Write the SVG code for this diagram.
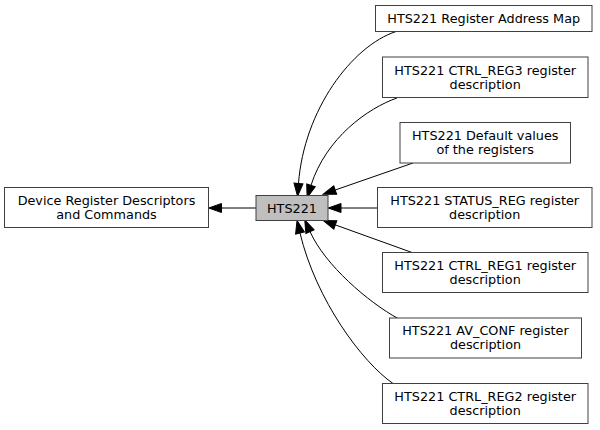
<svg xmlns="http://www.w3.org/2000/svg" width="600" height="430" viewBox="0 0 600 430">
<style>
.box{fill:#ffffff;stroke:#404040;stroke-width:1}
.cur{fill:#bfbfbf;stroke:#404040;stroke-width:1}
text{font-family:"DejaVu Sans","Liberation Sans",sans-serif;font-size:12.8px;fill:#000000;text-anchor:middle}
.edge{fill:none;stroke:#000000;stroke-width:1}
</style>
<defs>
<marker id="ah" markerUnits="userSpaceOnUse" markerWidth="14" markerHeight="10" refX="0" refY="4.5" orient="auto" overflow="visible">
<path d="M0,0 L12.8,4.5 L0,9 z" fill="#000000" stroke="#000000" stroke-width="1"/>
</marker>
</defs>
<g id="edges">
<path class="edge" d="M256,208 L221.5,208" marker-end="url(#ah)"/>
<path class="edge" d="M377.5,208 L341,208" marker-end="url(#ah)"/>
<path class="edge" d="M396,31.5 C352,46 304,110 298.5,183.5" marker-end="url(#ah)"/>
<path class="edge" d="M397,98 C368,108 326,138 311,185.3" marker-end="url(#ah)"/>
<path class="edge" d="M413,163 L335.2,190" marker-end="url(#ah)"/>
<path class="edge" d="M412,252.5 L335.3,224.9" marker-end="url(#ah)"/>
<path class="edge" d="M398,318.5 C368,302 325,265 310,231.6" marker-end="url(#ah)"/>
<path class="edge" d="M393,383.5 C362,362 316,300 300,233" marker-end="url(#ah)"/>
</g>
<g id="node_hts221">
<rect class="cur" x="256" y="195.5" width="72" height="25"/>
<text x="292" y="212.5">HTS221</text>
</g>
<g id="node_device">
<rect class="box" x="4.5" y="187.5" width="204" height="40"/>
<text x="106.5" y="204.5">Device Register Descriptors</text>
<text x="106.5" y="218.5">and Commands</text>
</g>
<g id="node_addrmap">
<rect class="box" x="375.5" y="5.5" width="216.5" height="26"/>
<text x="483.7" y="22.7">HTS221 Register Address Map</text>
</g>
<g id="node_ctrl3">
<rect class="box" x="382.5" y="57" width="205.5" height="40.5"/>
<text x="485.2" y="74.5">HTS221 CTRL_REG3 register</text>
<text x="485.2" y="88.5">description</text>
</g>
<g id="node_default">
<rect class="box" x="400" y="122.5" width="170.5" height="40.5"/>
<text x="485.2" y="139.7">HTS221 Default values</text>
<text x="485.2" y="153.7">of the registers</text>
</g>
<g id="node_status">
<rect class="box" x="377.5" y="187.5" width="214.5" height="40"/>
<text x="484.7" y="204.5">HTS221 STATUS_REG register</text>
<text x="484.7" y="218.5">description</text>
</g>
<g id="node_ctrl1">
<rect class="box" x="382.5" y="252.5" width="205.5" height="40"/>
<text x="485.2" y="269.5">HTS221 CTRL_REG1 register</text>
<text x="485.2" y="283.5">description</text>
</g>
<g id="node_avconf">
<rect class="box" x="389.5" y="318" width="192" height="40"/>
<text x="485.5" y="335">HTS221 AV_CONF register</text>
<text x="485.5" y="349">description</text>
</g>
<g id="node_ctrl2">
<rect class="box" x="382.5" y="383.5" width="205.5" height="40"/>
<text x="485.2" y="400.5">HTS221 CTRL_REG2 register</text>
<text x="485.2" y="414.5">description</text>
</g>
</svg>
